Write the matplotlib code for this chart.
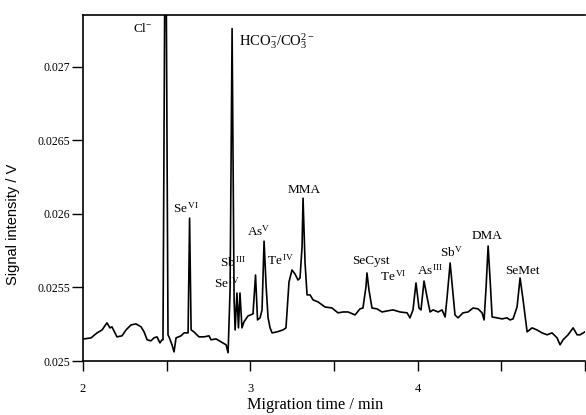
import numpy as np
import matplotlib
matplotlib.use("Agg")
import matplotlib.pyplot as plt

plt.rcParams['font.family'] = ['Liberation Serif', 'DejaVu Serif']
plt.rcParams['mathtext.fontset'] = 'custom'
plt.rcParams['mathtext.rm'] = 'Liberation Serif'
plt.rcParams['mathtext.it'] = 'Liberation Serif:italic'
plt.rcParams['mathtext.bf'] = 'Liberation Serif:bold'

# electropherogram trace (min, V)
time_min = [2.006, 2.048, 2.084, 2.114, 2.143, 2.161, 2.173, 2.203, 2.233, 2.257,
            2.287, 2.317, 2.347, 2.365, 2.383, 2.406, 2.424, 2.442, 2.460, 2.472,
            2.478, 2.493, 2.508, 2.514, 2.532, 2.544, 2.556, 2.586, 2.604, 2.622,
            2.628, 2.637, 2.646, 2.663, 2.693, 2.723, 2.753, 2.765, 2.795, 2.825,
            2.855, 2.867, 2.879, 2.891, 2.903, 2.909, 2.920, 2.929, 2.938, 2.950,
            2.962, 2.986, 3.016, 3.031, 3.043, 3.058, 3.070, 3.082, 3.094, 3.106,
            3.118, 3.130, 3.160, 3.195, 3.213, 3.231, 3.249, 3.267, 3.285, 3.297,
            3.309, 3.315, 3.327, 3.339, 3.357, 3.375, 3.405, 3.446, 3.488, 3.524,
            3.554, 3.584, 3.626, 3.655, 3.673, 3.691, 3.697, 3.709, 3.727, 3.757,
            3.787, 3.817, 3.853, 3.895, 3.937, 3.954, 3.972, 3.990, 4.008, 4.020,
            4.038, 4.056, 4.074, 4.092, 4.122, 4.146, 4.164, 4.176, 4.194, 4.211,
            4.223, 4.241, 4.271, 4.301, 4.331, 4.361, 4.385, 4.397, 4.409, 4.421,
            4.433, 4.445, 4.475, 4.504, 4.534, 4.552, 4.570, 4.594, 4.612, 4.630,
            4.654, 4.684, 4.713, 4.743, 4.773, 4.803, 4.833, 4.851, 4.869, 4.899,
            4.929, 4.953, 4.971, 5.000]
signal_v = [0.025150, 0.025157, 0.025191, 0.025211, 0.025259, 0.025225, 0.025232, 0.025164, 0.025171, 0.025211,
            0.025245, 0.025252, 0.025232, 0.025198, 0.025144, 0.025137, 0.025157, 0.025164, 0.025123, 0.025144,
            0.025144, 0.028500, 0.025178, 0.025164, 0.025110, 0.025062, 0.025157, 0.025171, 0.025191, 0.025191,
            0.025191, 0.025970, 0.025211, 0.025198, 0.025164, 0.025164, 0.025171, 0.025144, 0.025150, 0.025130,
            0.025110, 0.025056, 0.025482, 0.027257, 0.025415, 0.025211, 0.025462, 0.025225, 0.025462, 0.025225,
            0.025266, 0.025306, 0.025320, 0.025584, 0.025279, 0.025293, 0.025347, 0.025814, 0.025516, 0.025293,
            0.025225, 0.025191, 0.025198, 0.025211, 0.025225, 0.025537, 0.025618, 0.025591, 0.025550, 0.025564,
            0.025774, 0.026106, 0.025666, 0.025449, 0.025449, 0.025415, 0.025401, 0.025367, 0.025360, 0.025327,
            0.025333, 0.025333, 0.025313, 0.025354, 0.025360, 0.025503, 0.025598, 0.025482, 0.025360, 0.025354,
            0.025333, 0.025340, 0.025347, 0.025333, 0.025327, 0.025293, 0.025347, 0.025530, 0.025360, 0.025347,
            0.025543, 0.025435, 0.025333, 0.025347, 0.025333, 0.025347, 0.025299, 0.025435, 0.025666, 0.025462,
            0.025313, 0.025293, 0.025327, 0.025333, 0.025360, 0.025354, 0.025327, 0.025279, 0.025503, 0.025781,
            0.025550, 0.025299, 0.025293, 0.025286, 0.025293, 0.025279, 0.025286, 0.025367, 0.025564, 0.025415,
            0.025198, 0.025225, 0.025211, 0.025191, 0.025178, 0.025191, 0.025157, 0.025110, 0.025144, 0.025178,
            0.025225, 0.025178, 0.025178, 0.025198]

# peak labels
peak_labels = [r"Cl$^{-}$", r"HCO$_3^{-}$/CO$_3^{2-}$", r"Se$^{\,\mathrm{VI}}$", r"Sb$^{\,\mathrm{III}}$",
               r"Se$^{\,\mathrm{IV}}$", r"As$^{\mathrm{V}}$", r"Te$^{\,\mathrm{IV}}$", "MMA", "SeCyst",
               r"Te$^{\,\mathrm{VI}}$", r"As$^{\,\mathrm{III}}$", r"Sb$^{\mathrm{V}}$", "DMA", "SeMet"]
label_x = [2.359, 2.932, 2.538, 2.819, 2.783, 2.980, 3.100, 3.321, 3.721,
           3.775, 3.996, 4.134, 4.415, 4.624]
label_y = [0.027257, 0.027176, 0.026038, 0.025672, 0.025530, 0.025882, 0.025686, 0.026160, 0.025679,
           0.025577, 0.025618, 0.025740, 0.025848, 0.025611]
label_ha = ['center', 'left', 'left', 'left', 'left', 'left', 'left', 'center', 'center',
            'left', 'left', 'left', 'center', 'center']
label_size = [9.5, 10.5, 9.5, 9.5, 9.5, 9.5, 9.5, 9.5, 9.5, 9.5, 9.5, 9.5, 9.5, 9.5]

ytick_vals = [0.025, 0.0255, 0.026, 0.0265, 0.027]
ytick_text = ['0.025', '0.0255', '0.026', '0.0265', '0.027']
xtick_vals = [2, 2.5, 3, 3.5, 4, 4.5, 5]
xtick_text = ['2', '', '3', '', '4', '', '']

fig = plt.figure(figsize=(5.86, 4.15), dpi=100)
ax = fig.add_axes([83/586, 1 - 361/415, 502/586, 346/415])

ax.plot(time_min, signal_v, color='black', lw=1.2)

for txt, x, y, ha, fs in zip(peak_labels, label_x, label_y, label_ha, label_size):
    ax.text(x, y, txt, ha=ha, va='center', fontsize=fs)

ax.set_xlim(2, 5)
ax.set_ylim(0.025, 0.02735)
ax.set_xticks(xtick_vals)
ax.set_xticklabels(xtick_text)
ax.set_yticks(ytick_vals)
ax.set_yticklabels(ytick_text)
ax.tick_params(axis='x', direction='out', length=7, width=1, pad=9, labelsize=9)
ax.tick_params(axis='y', direction='out', length=8, width=1, pad=1, labelsize=8.5)

ax.spines['right'].set_visible(False)
for s in ['left', 'bottom', 'top']:
    ax.spines[s].set_linewidth(1.2)

ax.set_xlabel('Migration time / min', fontsize=11.7)
ax.set_ylabel('Signal intensity / V', fontsize=10.5, family='Liberation Sans')
ax.xaxis.set_label_coords(0.462, -0.105)
ax.yaxis.set_label_coords(-0.125, 0.396)

fig.savefig('out.png', dpi=100)
